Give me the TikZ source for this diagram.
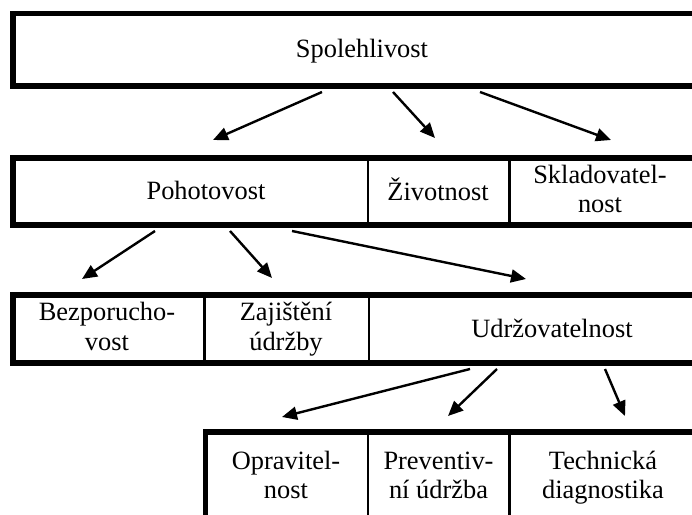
\documentclass[tikz,border=0pt]{standalone}
\usepackage{fontspec}
\setmainfont{Liberation Serif}
\usetikzlibrary{arrows.meta}
\begin{document}
\begin{tikzpicture}[x=1bp,y=-1bp,
  frame/.style={line width=5.5bp, line join=miter},
  divider/.style={line width=2.3bp},
  lbl/.style={inner sep=0pt, align=center, font=\fontsize{26.5}{30.1}\selectfont},
  conn/.style={line width=2.4bp, -{Triangle[length=15bp,width=13bp]}}]
\useasboundingbox (0,0) rectangle (692,515);
\clip (0,0) rectangle (692,515);
\fill[white] (0,0) rectangle (692,515);

% row frames
\draw[frame] (720,13.5) -- (13,13.5) -- (13,86) -- (720,86);
\draw[frame] (720,158) -- (13,158) -- (13,225) -- (720,225);
\draw[frame] (720,295) -- (13,295) -- (13,363) -- (720,363);
\draw[frame] (720,432) -- (205.5,432) -- (205.5,540);

% dividers
\draw[divider] (368,158) -- (368,225);
\draw[divider] (509.5,158) -- (509.5,225);
\draw[divider] (204.5,295) -- (204.5,363);
\draw[divider] (369,295) -- (369,363);
\draw[divider] (368,432) -- (368,540);
\draw[divider] (509.5,432) -- (509.5,540);

% texts
\node[lbl] (spol)  at (362,52)    {\strut Spolehlivost};
\node[lbl] (pohot) at (206,194)   {\strut Pohotovost};
\node[lbl] (zivot) at (438,194)   {\strut Životnost};
\node[lbl] (sklad) at (600,192)   {\strut Skladovatel-\\nost\strut};
\node[lbl] (bezp)  at (107,329.5) {\strut Bezporucho-\\vost\strut};
\node[lbl] (zaj)   at (286,329.5) {\strut Zajištění\\údržby\strut};
\node[lbl] (udrz)  at (552,331.5) {\strut Udržovatelnost};
\node[lbl] (oprav) at (286,478)   {\strut Opravitel-\\nost\strut};
\node[lbl] (prev)  at (438.5,478) {\strut Preventiv-\\ní údržba\strut};
\node[lbl] (tech)  at (603,478)   {\strut Technická\\diagnostika\strut};

% connector end points
\coordinate (a1s) at (322,92);  \coordinate (a1e) at (213,140);
\coordinate (a2s) at (393,92);  \coordinate (a2e) at (435,138);
\coordinate (a3s) at (480,92);  \coordinate (a3e) at (611,140);
\coordinate (b1s) at (155,231); \coordinate (b1e) at (82,279);
\coordinate (b2s) at (230,231); \coordinate (b2e) at (272,278);
\coordinate (b3s) at (292,231); \coordinate (b3e) at (526,279);
\coordinate (c1s) at (470,369); \coordinate (c1e) at (282,417);
\coordinate (c2s) at (497,369); \coordinate (c2e) at (448,416);
\coordinate (c3s) at (605,369); \coordinate (c3e) at (625,416);

\draw[conn] (a1s) -- (a1e);
\draw[conn] (a2s) -- (a2e);
\draw[conn] (a3s) -- (a3e);
\draw[conn] (b1s) -- (b1e);
\draw[conn] (b2s) -- (b2e);
\draw[conn] (b3s) -- (b3e);
\draw[conn] (c1s) -- (c1e);
\draw[conn] (c2s) -- (c2e);
\draw[conn] (c3s) -- (c3e);
\end{tikzpicture}
\end{document}
